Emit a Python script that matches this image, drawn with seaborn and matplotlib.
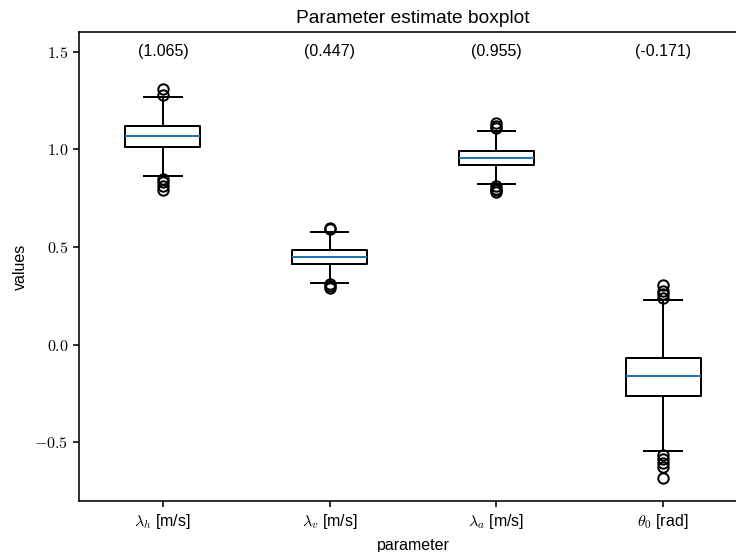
import pandas as pd
import seaborn as sns
import matplotlib.pyplot as plt
from matplotlib.ticker import FuncFormatter

# Parameter samples
param_labels = [r"$\lambda_h$ [m/s]", r"$\lambda_v$ [m/s]", r"$\lambda_a$ [m/s]", r"$\theta_0$ [rad]"]

lam_h = [0.795, 0.815, 0.835, 0.850, 0.865, 0.950, 1.014, 1.025, 1.035, 1.045,
         1.052, 1.060, 1.068, 1.075, 1.083, 1.092, 1.100, 1.108, 1.118, 1.150,
         1.190, 1.230, 1.270, 1.280, 1.310]
lam_v = [0.290, 0.300, 0.310, 0.318, 0.370, 0.416, 0.424, 0.432, 0.438, 0.444,
         0.449, 0.455, 0.462, 0.470, 0.477, 0.484, 0.510, 0.545, 0.579, 0.595,
         0.598]
lam_a = [0.782, 0.790, 0.800, 0.812, 0.821, 0.880, 0.921, 0.928, 0.934, 0.940,
         0.946, 0.952, 0.957, 0.962, 0.968, 0.974, 0.980, 0.986, 0.992, 1.020,
         1.060, 1.096, 1.110, 1.120, 1.135]
theta_0 = [-0.680, -0.626, -0.604, -0.583, -0.562, -0.544, -0.400, -0.262, -0.248,
           -0.232, -0.216, -0.200, -0.186, -0.174, -0.162, -0.150, -0.136, -0.120,
           -0.104, -0.090, -0.078, -0.066, 0.080, 0.150, 0.227, 0.241, 0.258,
           0.275, 0.304]

# mean estimates shown above each box
mean_values = [1.065, 0.447, 0.955, -0.171]

samples = [lam_h, lam_v, lam_a, theta_0]
df = pd.concat(
    [pd.DataFrame({"parameter": lab, "value": vals}) for lab, vals in zip(param_labels, samples)],
    ignore_index=True,
)

plt.rcParams["font.family"] = ["Liberation Sans", "DejaVu Sans"]
plt.rcParams["mathtext.fontset"] = "cm"
plt.rcParams["axes.linewidth"] = 1.0
plt.rcParams["xtick.major.width"] = 1.0
plt.rcParams["ytick.major.width"] = 1.0

fig = plt.figure(figsize=(6.4, 4.8), dpi=115)
ax = fig.add_axes([0.108, 0.0924, 0.9064, 0.8491])

sns.boxplot(
    data=df,
    x="parameter",
    y="value",
    order=param_labels,
    width=0.45,
    fill=False,
    color="black",
    linewidth=1.25,
    whis=1.5,
    fliersize=6,
    medianprops={"color": "#1f77b4", "linewidth": 1.25},
    flierprops={"marker": "o", "markersize": 6.5, "markerfacecolor": "none",
                "markeredgecolor": "black", "markeredgewidth": 1.25},
    ax=ax,
)

for i, m in enumerate(mean_values):
    ax.text(i, 1.5, f"({m:.3f})", ha="center", va="center", fontsize=10)

ax.set_ylim(-0.8, 1.6)
ax.yaxis.set_major_formatter(FuncFormatter(lambda v, p: f"${v:.1f}$"))
ax.set_title("Parameter estimate boxplot", fontsize=12)
ax.set_xlabel("parameter")
ax.set_ylabel("values")

fig.savefig("out.png", dpi=115)
